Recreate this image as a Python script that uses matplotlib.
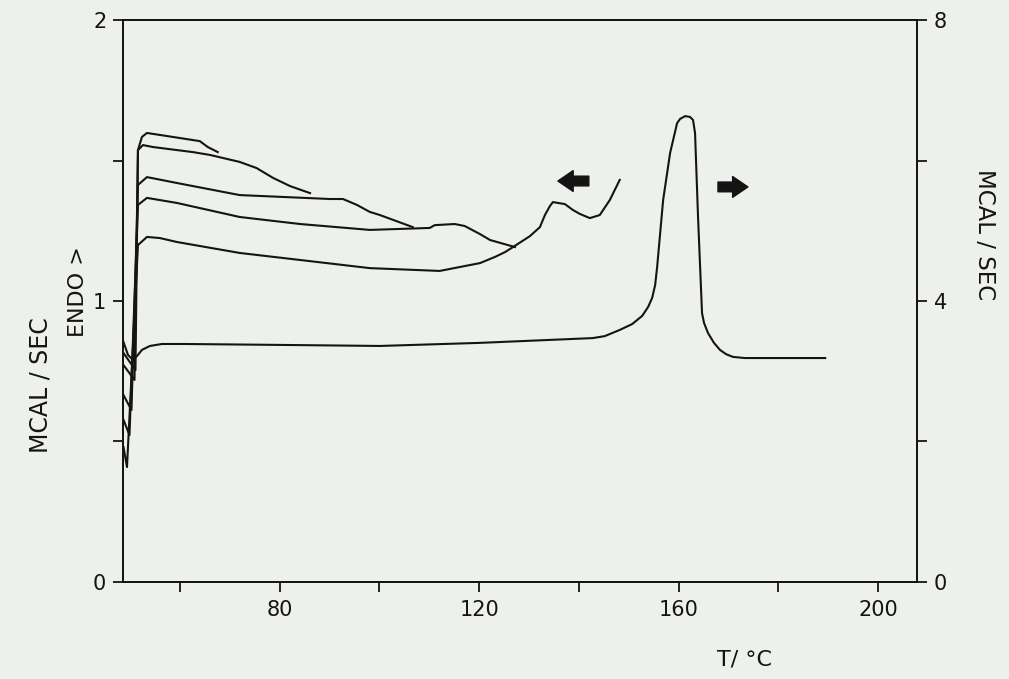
import numpy as np
import matplotlib.pyplot as plt

# heating run (T in degC, heat flow in mcal/s, left scale)
heat_T = [48.7, 49.6, 50.6, 51.4, 52.4, 54.0, 56.4, 61.0, 84.1, 100.1, 120.2, 142.8, 145.2,
          148.2, 150.7, 152.7, 153.9, 154.7, 155.3, 155.7, 156.9, 158.3, 159.7, 160.3, 161.3,
          162.3, 162.9, 163.3, 163.9, 164.7, 165.1, 165.9, 167.1, 168.3, 169.5, 170.9, 173.3,
          180.3, 189.4]
heat_q = [0.854, 0.808, 0.790, 0.804, 0.826, 0.840, 0.847, 0.847, 0.843, 0.840, 0.851, 0.868, 0.875,
          0.897, 0.918, 0.947, 0.979, 1.011, 1.057, 1.121, 1.359, 1.527, 1.633, 1.648, 1.658,
          1.655, 1.644, 1.598, 1.299, 0.957, 0.922, 0.886, 0.851, 0.826, 0.811, 0.801, 0.797,
          0.797, 0.797]

# cooling runs, stopped at different temperatures
cool_a_T = [48.7, 51.1, 51.6, 52.4, 53.4, 56.0, 64.0, 65.6, 67.6]
cool_a_q = [0.815, 0.754, 1.537, 1.584, 1.598, 1.591, 1.569, 1.548, 1.530]

cool_b_T = [48.7, 50.9, 51.6, 52.6, 54.6, 62.6, 66.0, 72.0, 75.4, 78.7, 82.1, 86.1]
cool_b_q = [0.772, 0.719, 1.537, 1.555, 1.548, 1.530, 1.520, 1.495, 1.473, 1.438, 1.409, 1.384]

cool_c_T = [48.7, 50.3, 51.6, 53.4, 59.4, 72.0, 90.1, 92.7, 95.5, 98.1, 100.1, 106.7]
cool_c_q = [0.665, 0.612, 1.413, 1.441, 1.420, 1.377, 1.363, 1.363, 1.342, 1.317, 1.306, 1.263]

cool_d_T = [48.7, 49.9, 51.6, 53.4, 59.4, 72.0, 84.1, 98.1, 110.1, 111.1, 115.1, 117.1,
            120.2, 122.2, 127.2]
cool_d_q = [0.577, 0.523, 1.342, 1.367, 1.349, 1.299, 1.274, 1.253, 1.260, 1.270, 1.274, 1.267,
            1.238, 1.217, 1.192]

cool_e_T = [48.7, 49.4, 51.6, 53.4, 56.0, 59.4, 72.0, 84.1, 98.1, 112.1, 120.2, 123.2, 125.2,
            126.8, 130.2, 132.2, 133.2, 134.2, 134.8, 135.8, 137.2, 138.8, 140.2, 142.2, 144.2,
            146.2, 148.2]
cool_e_q = [0.480, 0.409, 1.199, 1.228, 1.224, 1.210, 1.171, 1.146, 1.117, 1.107, 1.135, 1.157, 1.174,
            1.192, 1.231, 1.263, 1.306, 1.338, 1.352, 1.349, 1.345, 1.324, 1.310, 1.295, 1.306,
            1.359, 1.431]

x_ticks = [60, 80, 100, 120, 140, 160, 180, 200]
x_labels = ['', '80', '', '120', '', '160', '', '200']
left_ticks = [0, 0.5, 1, 1.5, 2]
left_labels = ['0', '', '1', '', '2']
right_ticks = [0, 2, 4, 6, 8]
right_labels = ['0', '', '4', '', '8']

bg = '#eef0ec'
ink = '#141414'

fig = plt.figure(figsize=(10.09, 6.79), dpi=100, facecolor=bg)
ax = fig.add_axes([0.1219, 0.1429, 0.7869, 0.8276], facecolor=bg)

ax.plot(heat_T, heat_q, color=ink, lw=1.5)
for T, q in [(cool_a_T, cool_a_q), (cool_b_T, cool_b_q), (cool_c_T, cool_c_q),
             (cool_d_T, cool_d_q), (cool_e_T, cool_e_q)]:
    ax.plot(T, q, color=ink, lw=1.5)

# direction arrows
arrow = dict(arrowstyle='simple,head_width=0.75,head_length=0.55,tail_width=0.35',
             fc=ink, ec=ink, mutation_scale=20, shrinkA=0, shrinkB=0)
ax.annotate('', xy=(135.8, 1.427), xytext=(142.0, 1.427), arrowprops=arrow)
ax.annotate('', xy=(173.9, 1.406), xytext=(167.9, 1.406), arrowprops=arrow)

ax.set_xlim(48.6, 207.8)
ax.set_ylim(0, 2)
ax.set_xticks(x_ticks)
ax.set_xticklabels(x_labels)
ax.set_yticks(left_ticks)
ax.set_yticklabels(left_labels)
ax.tick_params(axis='x', direction='out', length=7, width=1.3, pad=6, labelsize=15, colors=ink)
ax.tick_params(axis='y', direction='out', length=7, width=1.3, pad=5, labelsize=15, colors=ink)
for s in ax.spines.values():
    s.set_linewidth(1.3)
    s.set_color(ink)

ax2 = ax.twinx()
ax2.set_ylim(0, 8)
ax2.set_yticks(right_ticks)
ax2.set_yticklabels(right_labels)
ax2.tick_params(axis='y', direction='out', length=7, width=1.3, pad=5, labelsize=15, colors=ink)
for s in ax2.spines.values():
    s.set_linewidth(1.3)
    s.set_color(ink)

fig.text(0.040, 0.433, 'MCAL / SEC', rotation=90, ha='center', va='center', fontsize=17, color=ink)
fig.text(0.077, 0.570, 'ENDO >', rotation=90, ha='center', va='center', fontsize=16, color=ink)
fig.text(0.976, 0.654, 'MCAL / SEC', rotation=-90, ha='center', va='center', fontsize=16.5, color=ink)
fig.text(0.738, 0.028, 'T/ °C', ha='center', va='center', fontsize=16, color=ink)

fig.savefig('out.png', dpi=100, facecolor=bg)
